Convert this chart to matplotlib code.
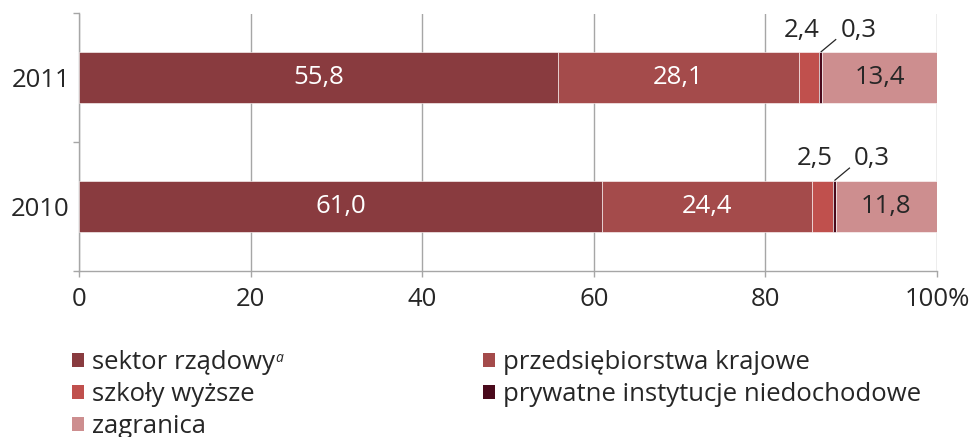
import matplotlib
matplotlib.use("Agg")
import matplotlib.pyplot as plt
from matplotlib.patches import Patch

plt.rcParams['font.family'] = ['Open Sans', 'DejaVu Sans']

years = ['2010', '2011']
series_names = ['sektor rządowy', 'przedsiębiorstwa krajowe', 'szkoły wyższe',
                'prywatne instytucje niedochodowe', 'zagranica']
values = {
    'sektor': [61.0, 55.8],
    'przeds': [24.4, 28.1],
    'szkoly': [2.5, 2.4],
    'prywatne': [0.3, 0.3],
    'zagranica': [11.8, 13.4],
}
keys = ['sektor', 'przeds', 'szkoly', 'prywatne', 'zagranica']
colors = ['#893B3F', '#A44B4B', '#C0504D', '#4A0A1C', '#CD8E8F']
label_colors = ['white', 'white', None, None, '#262626']
xticks = [0, 20, 40, 60, 80, 100]
xtick_labels = ['0', '20', '40', '60', '80', '100%']

W, H = 980, 437
fig = plt.figure(figsize=(W / 100, H / 100), dpi=100)
ax = fig.add_axes([79/W, 1-270.5/H, (937-79)/W, (270.5-13.5)/H])

ypos = [0, 1]
left = [0.0, 0.0]
bars = []
for k, c in zip(keys, colors):
    b = ax.barh(ypos, values[k], left=left, height=0.397, color=c, edgecolor='white',
                linewidth=0.4, zorder=3)
    bars.append(b)
    left = [l + v for l, v in zip(left, values[k])]

fs = 18.5
tc = '#262626'
def fmt(v):
    return f'{v:.1f}'.replace('.', ',')

# inside labels
for i, k in enumerate(keys):
    if label_colors[i] is None:
        continue
    for j, y in enumerate(ypos):
        b = bars[i][j]
        xc = b.get_x() + b.get_width() / 2
        ax.text(xc, y, fmt(values[k][j]), ha='center', va='center', fontsize=fs,
                color=label_colors[i], zorder=5)

# outside labels for small segments
for j, y in enumerate(ypos):
    b2 = bars[2][j]
    x2 = b2.get_x() + b2.get_width() / 2
    ax.text(x2 - 0.9, y + 0.37, fmt(values['szkoly'][j]), ha='center', va='center',
            fontsize=fs, color=tc)
    b3 = bars[3][j]
    x3 = b3.get_x() + b3.get_width() / 2
    ax.plot([x3, x3 + 1.8], [y + 0.2, y + 0.3], color=tc, lw=0.9, zorder=4,
            solid_capstyle='butt')
    ax.text(x3 + 2.3, y + 0.37, fmt(values['prywatne'][j]), ha='left', va='center',
            fontsize=fs, color=tc)

ax.set_xlim(0, 100)
ax.set_ylim(-0.5, 1.5)
ax.set_xticks(xticks)
ax.set_xticklabels(xtick_labels, fontsize=fs, color=tc)
ax.set_yticks(ypos)
ax.set_yticklabels(years, fontsize=fs, color=tc)
ax.set_yticks([-0.5, 0.5, 1.5], minor=True)
ax.tick_params(axis='y', which='major', length=0, pad=6.5)
ax.tick_params(axis='y', which='minor', length=4.5, color='#A6A6A6', width=1)
ax.tick_params(axis='x', length=4.5, color='#A6A6A6', width=1, pad=7.5)
ax.grid(axis='x', color='#A6A6A6', linewidth=1, zorder=0)
for s in ['top', 'right']:
    ax.spines[s].set_visible(False)
for s in ['left', 'bottom']:
    ax.spines[s].set_color('#A6A6A6')
    ax.spines[s].set_linewidth(1)

handles = [Patch(facecolor=c, edgecolor='none') for c in colors]
leg_kw = dict(frameon=False, fontsize=fs, handlelength=0.47, handleheight=0.47,
              handletextpad=0.3, labelspacing=0.27, borderaxespad=0, borderpad=0,
              labelcolor=tc)
leg1 = fig.legend([handles[0], handles[2], handles[4]],
                  [series_names[0], series_names[2], series_names[4]],
                  loc='upper left', bbox_to_anchor=(72/W, 1-350/H), **leg_kw)
leg2 = fig.legend([handles[1], handles[3]],
                  [series_names[1], series_names[3]],
                  loc='upper left', bbox_to_anchor=(483/W, 1-350/H), **leg_kw)

# superscript footnote marker after first legend entry
fig.canvas.draw()
bb = leg1.get_texts()[0].get_window_extent()
fig.text((bb.x1 + 1) / W, (bb.y1 - 1) / H, 'a', fontsize=10, style='italic',
         color=tc, ha='left', va='top')

fig.savefig('out.png', dpi=100)
